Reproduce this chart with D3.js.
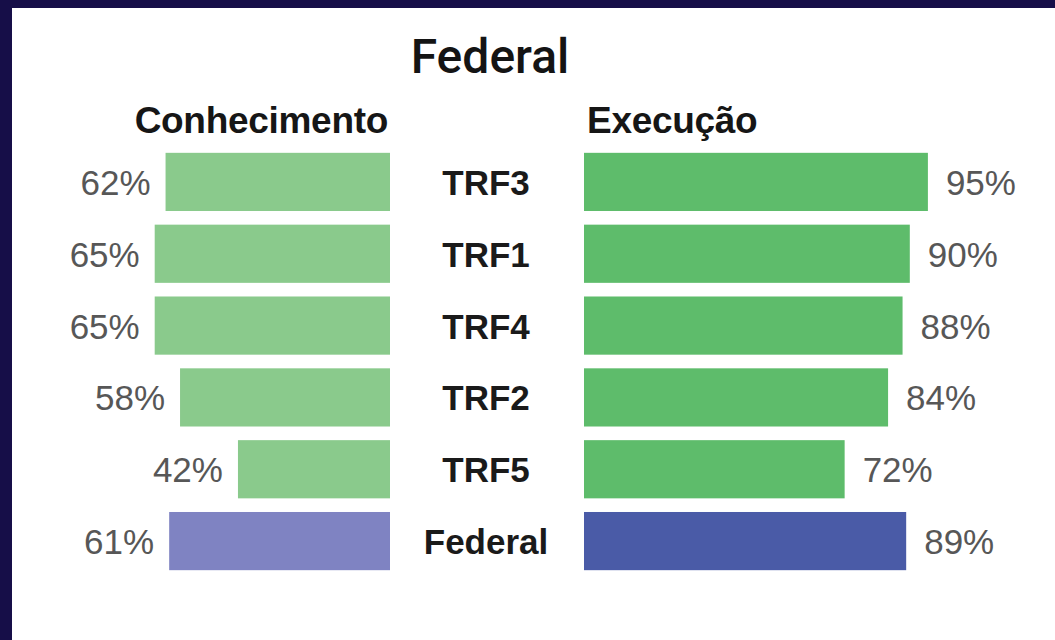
<!DOCTYPE html>
<html>
  <head>
    <meta charset="utf-8">
    <script src="https://d3js.org/d3.v7.min.js"></script>
    <style>
      body { margin: 0; background: #ffffff; }
      .title { font-family: Roboto, sans-serif; font-weight: 500; font-size: 48px; fill: #141414; }
      .head { font-family: "Liberation Sans", Arial, sans-serif; font-weight: bold; font-size: 37px; fill: #161616; letter-spacing: -0.3px; }
      .cat { font-family: "Liberation Sans", Arial, sans-serif; font-weight: bold; font-size: 35px; fill: #1a1a1a; }
      .val { font-family: "Liberation Sans", Arial, sans-serif; font-size: 35px; fill: #575757; }
    </style>
  </head>
  <body>
    <div id="chart"></div>
<script>
// data
var categories = ["TRF3", "TRF1", "TRF4", "TRF2", "TRF5", "Federal"];
var conhecimento = [62, 65, 65, 58, 42, 61];
var execucao = [95, 90, 88, 84, 72, 89];

var width = 1055, height = 640;

var svg = d3.select("#chart").append("svg")
  .attr("width", width)
  .attr("height", height);

// navy frame on the top and left, white panel
svg.append("rect").attr("width", width).attr("height", height).attr("fill", "#160e48");
svg.append("rect").attr("x", 12).attr("y", 8).attr("width", width - 12).attr("height", height - 8).attr("fill", "#ffffff");

var y = d3.scaleBand()
  .domain(categories)
  .range([146, 577])
  .paddingInner(0.19)
  .paddingOuter(0.095);

var x = d3.scaleLinear().domain([0, 100]).range([0, 362]);

var leftEdge = 390;   // left bars grow leftwards from here
var rightStart = 584; // right bars grow rightwards from here
var midX = 486;

function isTotal(d) { return d === "Federal"; }

// title and headers
svg.append("text").attr("class", "title")
  .attr("x", 490).attr("y", 73)
  .attr("text-anchor", "middle")
  .text("Federal");

svg.append("text").attr("class", "head")
  .attr("x", 388).attr("y", 133)
  .attr("text-anchor", "end")
  .text("Conhecimento");

svg.append("text").attr("class", "head")
  .attr("x", 587).attr("y", 133)
  .text("Execução");

// left bars
svg.selectAll(".barL")
  .data(categories)
  .enter().append("rect")
  .attr("class", "barL")
  .attr("x", function(d, i) { return leftEdge - x(conhecimento[i]); })
  .attr("y", function(d) { return y(d); })
  .attr("width", function(d, i) { return x(conhecimento[i]); })
  .attr("height", y.bandwidth())
  .attr("fill", function(d) { return isTotal(d) ? "#7f83c2" : "#8aca8c"; });

svg.selectAll(".valL")
  .data(categories)
  .enter().append("text")
  .attr("class", "val")
  .attr("x", function(d, i) { return leftEdge - x(conhecimento[i]) - 15; })
  .attr("y", function(d) { return y(d) + y.bandwidth() / 2 + 13; })
  .attr("text-anchor", "end")
  .text(function(d, i) { return conhecimento[i] + "%"; });

// right bars
svg.selectAll(".barR")
  .data(categories)
  .enter().append("rect")
  .attr("class", "barR")
  .attr("x", rightStart)
  .attr("y", function(d) { return y(d); })
  .attr("width", function(d, i) { return x(execucao[i]); })
  .attr("height", y.bandwidth())
  .attr("fill", function(d) { return isTotal(d) ? "#4a5ba7" : "#5ebc6b"; });

svg.selectAll(".valR")
  .data(categories)
  .enter().append("text")
  .attr("class", "val")
  .attr("x", function(d, i) { return rightStart + x(execucao[i]) + 18; })
  .attr("y", function(d) { return y(d) + y.bandwidth() / 2 + 13; })
  .text(function(d, i) { return execucao[i] + "%"; });

// category names in the middle
svg.selectAll(".cat")
  .data(categories)
  .enter().append("text")
  .attr("class", "cat")
  .attr("x", midX)
  .attr("y", function(d) { return y(d) + y.bandwidth() / 2 + 13; })
  .attr("text-anchor", "middle")
  .text(function(d) { return d; });
</script>
  </body>
</html>
